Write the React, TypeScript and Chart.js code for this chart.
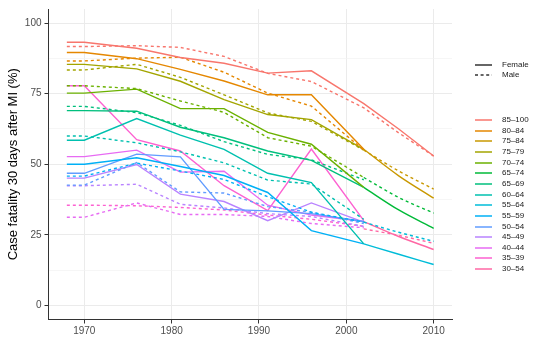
import React, { useEffect, useRef } from "react";
import { Chart, registerables } from "chart.js";
Chart.register(...registerables);

const FONT = '"Liberation Sans", Arial, Helvetica, sans-serif';

// Years of the measurements
const yearsFull = [1968, 1970, 1976, 1981, 1986, 1991, 1996, 2002, 2006, 2010];
const yearsEarly = [1968, 1970, 1976, 1981, 1986, 1991, 1996, 2002];
const yearsLate = [2002, 2006, 2010];

// Axis ticks
const xTicks = [1970, 1980, 1990, 2000, 2010];
const yTicks = [0, 12.5, 25, 37.5, 50, 62.5, 75, 87.5, 100];

// Case fatality (%) — Female (f) and Male (m)
const f85_100 = [93.2, 93.2, 91.1, 87.8, 85.8, 82.3, 83.1, 71.5, 62.5, 52.9];
const m85_100 = [91.7, 91.7, 92.0, 91.4, 88.2, 82.2, 79.3, 70.0, 61.1, 52.9];
const f80_84 = [89.6, 89.6, 87.4, 83.6, 79.5, 74.6, 74.6, 55.3];
const m80_84 = [86.6, 86.6, 87.6, 87.9, 82.6, 75.2, 70.6, 55.0];
const f75_79 = [85.4, 85.4, 83.8, 79.4, 72.9, 67.6, 65.8, 55.3];
const m75_79 = [83.4, 83.4, 85.4, 80.8, 74.6, 68.2, 65.2, 55.0];
const f70_74 = [75.2, 75.2, 76.6, 69.7, 69.7, 61.3, 57.1, 41.8];
const m70_74 = [77.8, 77.8, 76.8, 72.4, 68.4, 59.4, 56.4, 45.3];
const f65_69 = [69.0, 69.0, 68.8, 63.1, 59.4, 54.7, 51.4, 41.8];
const m65_69 = [70.5, 70.5, 68.3, 63.8, 58.0, 53.5, 51.6, 44.5];
const f60_64 = [58.5, 58.5, 66.2, 60.3, 55.3, 46.8, 43.5, 21.8];
const m60_64 = [60.0, 60.0, 57.6, 54.4, 50.5, 44.4, 43.0, 30.5];
const f55_59 = [50.0, 50.0, 52.3, 49.2, 46.0, 40.0, 26.5, 21.8];
const m55_59 = [45.8, 45.8, 50.4, 47.6, 44.6, 38.5, 33.0, 29.5];
const f50_54 = [46.8, 46.8, 53.6, 52.6, 34.0, 33.5, 32.5, 29.7];
const m50_54 = [42.6, 42.6, 50.6, 40.2, 39.8, 35.0, 33.0, 29.0];
const f45_49 = [45.1, 45.1, 49.9, 39.4, 36.8, 30.0, 36.3, 29.5];
const m45_49 = [42.4, 42.4, 42.9, 35.8, 34.5, 32.5, 31.5, 28.0];
const f40_44 = [52.7, 52.7, 55.0, 47.2, 47.5, 35.5, 32.0, 29.7];
const m40_44 = [31.2, 31.2, 36.3, 32.2, 32.2, 31.5, 29.0, 27.5];
const f35_39 = [77.8, 77.8, 58.7, 54.7, 42.4, 33.6, 55.4, 30.0];
const m35_39 = [35.5, 35.5, 35.3, 34.7, 33.8, 32.0, 30.5, 28.0];
const f75_84 = [55.3, 45.9, 38.0];
const m75_84 = [55.0, 47.6, 41.2];
const f65_74 = [41.8, 33.8, 27.3];
const m65_74 = [45.3, 38.2, 32.7];
const f55_64 = [21.8, 18.1, 14.5];
const m55_64 = [29.5, 25.9, 22.7];
const f30_54 = [29.7, 24.4, 19.8];
const m30_54 = [27.1, 24.8, 22.0];

const groupLabels = ["85–100", "80–84", "75–84", "75–79", "70–74", "65–74", "65–69", "60–64", "55–64", "55–59", "50–54", "45–49", "40–44", "35–39", "30–54"];
const groupColors = ["#F8766D", "#E58700", "#C99800", "#A3A500", "#6BB100", "#00BA38", "#00BF7D", "#00C0AF", "#00BCD8", "#00B0F6", "#619CFF", "#B983FF", "#E76BF3", "#FD61D1", "#FF67A4"];
const groupYears = [yearsFull, yearsEarly, yearsLate, yearsEarly, yearsEarly, yearsLate, yearsEarly, yearsEarly, yearsLate, yearsEarly, yearsEarly, yearsEarly, yearsEarly, yearsEarly, yearsLate];
const groupFemale = [f85_100, f80_84, f75_84, f75_79, f70_74, f65_74, f65_69, f60_64, f55_64, f55_59, f50_54, f45_49, f40_44, f35_39, f30_54];
const groupMale = [m85_100, m80_84, m75_84, m75_79, m70_74, m65_74, m65_69, m60_64, m55_64, m55_59, m50_54, m45_49, m40_44, m35_39, m30_54];

const sexLabels = ["Female", "Male"];
const DASH = [3, 3];

function LegendLine({ color, dashed }: { color: string; dashed: boolean }) {
  return (
    <svg width={18} height={6} style={{ display: "block" }}>
      <line x1={0} y1={3} x2={17} y2={3} stroke={color} strokeWidth={1.5} strokeDasharray={dashed ? "3 2.6" : undefined} />
    </svg>
  );
}

export default function App() {
  const ref = useRef<HTMLCanvasElement>(null);

  useEffect(() => {
    if (!ref.current) return;
    const datasets: any[] = [];
    groupLabels.forEach((lab, i) => {
      const yrs = groupYears[i];
      const late = yrs === yearsLate;
      [groupFemale[i], groupMale[i]].forEach((vals, s) => {
        datasets.push({
          label: `${lab} ${sexLabels[s]}`,
          data: vals.map((v, k) => ({ x: yrs[k], y: v })),
          borderColor: groupColors[i],
          backgroundColor: groupColors[i],
          borderWidth: 1.4,
          borderDash: s === 1 ? DASH : [],
          pointRadius: 0,
          fill: false,
          tension: 0,
          cubicInterpolationMode: late ? "monotone" : "default",
        });
      });
    });

    const chart = new Chart(ref.current, {
      type: "line",
      data: { datasets },
      options: {
        responsive: false,
        animation: false,
        layout: { padding: { left: 0, right: 88, top: 7, bottom: 0 } },
        plugins: { legend: { display: false }, tooltip: { enabled: false }, title: { display: false } },
        scales: {
          x: {
            type: "linear",
            min: 1965.9,
            max: 2012.1,
            afterBuildTicks: (s: any) => {
              s.ticks = xTicks.map((v) => ({ value: v }));
            },
            afterFit: (s: any) => {
              s.height = 40.5;
            },
            grid: { color: "#EBEBEB", lineWidth: 1, tickColor: "#333333", tickLength: 4, drawTicks: true },
            border: { display: true, color: "#333333", width: 1 },
            ticks: {
              autoSkip: false,
              maxRotation: 0,
              padding: 2,
              color: "#4D4D4D",
              font: { family: FONT, size: 10 },
              callback: (v: any) => String(v),
            },
          },
          y: {
            type: "linear",
            min: -5,
            max: 105,
            afterBuildTicks: (s: any) => {
              s.ticks = yTicks.map((v) => ({ value: v }));
            },
            afterFit: (s: any) => {
              s.width = 48.5;
            },
            grid: {
              color: (c: any) => (c.tick && c.tick.value % 25 === 0 ? "#EBEBEB" : "#F2F2F2"),
              lineWidth: (c: any) => (c.tick && c.tick.value % 25 === 0 ? 1 : 0.7),
              tickColor: (c: any) => (c.tick && c.tick.value % 25 === 0 ? "#333333" : "rgba(0,0,0,0)"),
              tickLength: 4,
              drawTicks: true,
            },
            border: { display: true, color: "#333333", width: 1 },
            title: {
              display: true,
              text: "Case fatality 30 days after MI (%)",
              color: "#000000",
              font: { family: FONT, size: 13 },
              padding: { top: 6, bottom: 2 },
            },
            ticks: {
              autoSkip: false,
              padding: 3,
              color: "#4D4D4D",
              font: { family: FONT, size: 10 },
              callback: (v: any) => (Number(v) % 25 === 0 ? String(v) : ""),
            },
          },
        },
      } as any,
    });
    return () => chart.destroy();
  }, []);

  const textStyle: React.CSSProperties = { fontFamily: FONT, fontSize: 8, color: "#1A1A1A", marginLeft: 9, lineHeight: "10px", whiteSpace: "nowrap" };

  return (
    <div style={{ position: "fixed", left: 0, top: 0, width: 540, height: 360, background: "#FFFFFF" }}>
      <canvas ref={ref} width={540} height={360} style={{ position: "absolute", left: 0, top: 0, width: 540, height: 360 }} />
      {sexLabels.map((s, i) => (
        <div key={s} style={{ position: "absolute", left: 475, top: 65 + i * 10 - 5, height: 10, display: "flex", alignItems: "center" }}>
          <LegendLine color="#333333" dashed={i === 1} />
          <span style={textStyle}>{s}</span>
        </div>
      ))}
      {groupLabels.map((lab, i) => (
        <div key={lab} style={{ position: "absolute", left: 475, top: 120 + i * 10.65 - 5, height: 10, display: "flex", alignItems: "center" }}>
          <LegendLine color={groupColors[i]} dashed={false} />
          <span style={textStyle}>{lab}</span>
        </div>
      ))}
    </div>
  );
}
